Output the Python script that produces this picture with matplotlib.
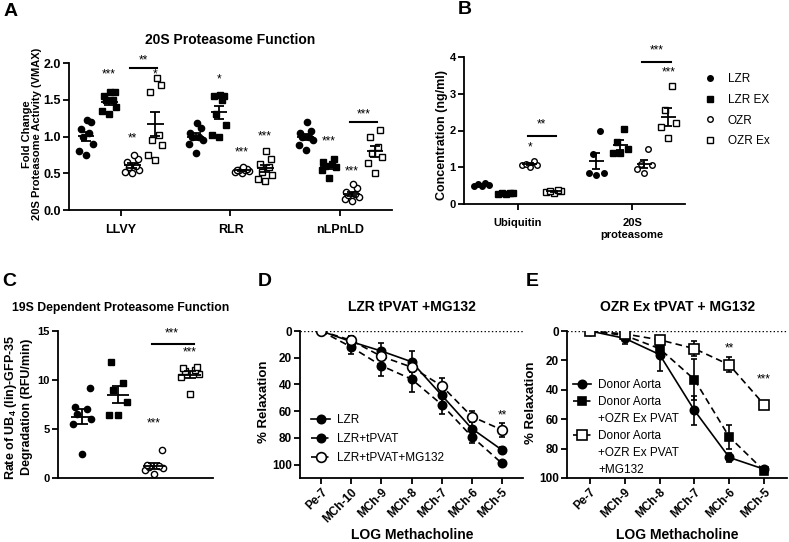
import numpy as np
import matplotlib
matplotlib.use("Agg")
import matplotlib.pyplot as plt
from matplotlib.lines import Line2D

plt.rcParams['font.family'] = ['Liberation Sans', 'DejaVu Sans']
plt.rcParams['font.weight'] = 'bold'
plt.rcParams['axes.labelweight'] = 'bold'
plt.rcParams['mathtext.fontset'] = 'custom'
plt.rcParams['mathtext.rm'] = 'Liberation Sans:bold'
plt.rcParams['mathtext.default'] = 'rm'

# ---- panel A: 20S proteasome activity (fold change) ----
a_groups = ['LLVY', 'RLR', 'nLPnLD']
a_lzr = [[0.75, 0.80, 0.90, 1.00, 1.05, 1.10, 1.20, 1.22],
         [0.77, 0.90, 0.95, 1.00, 1.00, 1.05, 1.12, 1.18],
         [0.82, 0.88, 0.95, 1.00, 1.00, 1.05, 1.08, 1.20]]
a_lzr_ex = [[1.30, 1.35, 1.40, 1.50, 1.50, 1.55, 1.60, 1.60],
            [1.00, 1.02, 1.15, 1.30, 1.50, 1.55, 1.55, 1.57],
            [0.43, 0.55, 0.58, 0.60, 0.62, 0.65, 0.70]]
a_ozr = [[0.50, 0.52, 0.55, 0.58, 0.60, 0.65, 0.70, 0.75],
         [0.50, 0.52, 0.53, 0.54, 0.55, 0.55, 0.56, 0.58],
         [0.12, 0.15, 0.18, 0.20, 0.22, 0.25, 0.30, 0.35]]
a_ozr_ex = [[0.68, 0.75, 0.88, 0.95, 1.02, 1.60, 1.70, 1.80],
            [0.40, 0.42, 0.48, 0.52, 0.58, 0.62, 0.70, 0.80],
            [0.50, 0.64, 0.72, 0.78, 0.86, 0.99, 1.09]]
# (group, series, y, text)
a_stars = [(0, 1, 1.84, '***'), (0, 2, 0.98, '**'), (0, 3, 1.84, '*'),
           (1, 1, 1.77, '*'), (1, 2, 0.78, '***'), (1, 3, 1.00, '***'),
           (2, 1, 0.93, '***'), (2, 2, 0.52, '***')]
a_bars = [(0, 2, 3, 1.93, '**'), (2, 2, 3, 1.20, '***')]

# ---- panel B: ELISA concentrations ----
b_groups = ['Ubiquitin', '20S\nproteasome']
b_lzr = [[0.48, 0.50, 0.52, 0.55, 0.58], [2.00, 1.35, 0.85, 0.80, 0.85]]
b_lzr_ex = [[0.27, 0.28, 0.29, 0.30, 0.30], [2.05, 1.70, 1.50, 1.40, 1.38]]
b_ozr = [[1.00, 1.05, 1.07, 1.10, 1.17], [1.50, 1.10, 1.05, 0.95, 0.85]]
b_ozr_ex = [[0.30, 0.32, 0.35, 0.36, 0.38], [3.20, 2.55, 2.20, 2.10, 1.80]]
b_stars = [(0, 2, 1.55, '*'), (1, 3, 3.59, '***')]
b_bars = [(0, 2, 3, 1.85, '**'), (1, 2, 3, 3.86, '***')]

# ---- panel C: 19S dependent degradation ----
c_lzr = [2.5, 5.5, 6.0, 6.5, 7.0, 7.2, 9.2]
c_lzr_ex = [11.8, 9.7, 9.0, 7.8, 6.4, 6.4]
c_ozr = [0.4, 0.8, 1.0, 1.1, 1.2, 1.3, 2.9]
c_ozr_ex = [8.6, 10.3, 10.6, 10.9, 11.0, 11.2, 11.3]
c_stars = [(2, 5.6, '***'), (3, 12.8, '***')]
c_bars = [(2, 3, 13.7, '***')]

series_names = ['LZR', 'LZR EX', 'OZR', 'OZR Ex']
series_marker = ['o', 's', 'o', 's']
series_fill = [True, True, False, False]

# ---- panel D: LZR tPVAT + MG132 ----
d_ticks = ['Pe-7', 'MCh-10', 'MCh-9', 'MCh-8', 'MCh-7', 'MCh-6', 'MCh-5']
d_labels = ['LZR', 'LZR+tPVAT', 'LZR+tPVAT+MG132']
d_lzr = [0, 8, 15, 23, 48, 73, 89]
d_lzr_err = [0, 4, 6, 8, 6, 5, 2]
d_tpvat = [0, 12, 26, 36, 55, 79, 99]
d_tpvat_err = [0, 5, 8, 10, 7, 5, 2]
d_mg = [0, 7, 19, 27, 41, 64, 74]
d_mg_err = [0, 3, 3, 4, 6, 4, 5]
d_stars = [(6, 63, '**')]

# ---- panel E: OZR Ex tPVAT + MG132 ----
e_ticks = ['Pe-7', 'MCh-9', 'MCh-8', 'MCh-7', 'MCh-6', 'MCh-5']
e_donor = [0, 5, 16, 54, 86, 94]
e_donor_err = [0, 4, 11, 10, 3, 1]
e_pvat = [0, 3, 12, 33, 72, 95]
e_pvat_err = [0, 2, 3, 14, 8, 2]
e_mg = [0, 2, 6, 12, 23, 50]
e_mg_err = [0, 1, 2, 5, 5, 1]
e_stars = [(4, 12, '**'), (5, 33, '***')]


def style(ax, fs):
    for s in ['top', 'right']:
        ax.spines[s].set_visible(False)
    for s in ['left', 'bottom']:
        ax.spines[s].set_linewidth(1.3)
    ax.tick_params(width=1.3, length=4, labelsize=fs, pad=2)


def spread(vals):
    order = np.argsort(vals)
    pat = np.array([0.0, -1.0, 1.0, -0.5, 0.5, -0.8, 0.8, 0.2, -0.2])
    offs = np.empty(len(vals))
    offs[order] = pat[np.arange(len(vals)) % len(pat)]
    return offs


def dots(ax, x, vals, marker, fill, w, mw, cap, ms):
    vals = np.asarray(vals, dtype=float)
    ax.plot(x + spread(vals) * w, vals, ls='none', marker=marker, ms=ms,
            mfc='black' if fill else 'white', mec='black', mew=1.0, zorder=3)
    m = vals.mean()
    s = vals.std(ddof=1) / np.sqrt(len(vals))
    ax.hlines(m, x - mw, x + mw, color='black', lw=1.3, zorder=4)
    ax.errorbar(x, m, yerr=s, fmt='none', ecolor='black', elinewidth=1.3,
                capsize=cap, capthick=1.3, zorder=4)


def star(ax, x, y, t, fs=8.5):
    ax.text(x, y, t, ha='center', va='center', fontsize=fs,
            fontweight='normal', clip_on=False)


def curve(ax, x, y, err, ls, marker, fill, ms):
    ax.errorbar(x, y, yerr=err, color='black', lw=1.2, ls=ls, marker=marker,
                ms=ms, mfc='black' if fill else 'white', mec='black', mew=1.2,
                capsize=2.5, capthick=1.2, zorder=4 if not fill else 3)
    return Line2D([], [], color='black', lw=1.2, ls=ls, marker=marker, ms=ms,
                  mfc='black' if fill else 'white', mec='black', mew=1.2)


fig = plt.figure(figsize=(7.89, 5.42), dpi=100)
W, H = 789.0, 542.0


def px_axes(l, t, r, b):
    return fig.add_axes([l / W, 1 - b / H, (r - l) / W, (b - t) / H])


# ================= A =================
axA = px_axes(69, 63, 392, 210)
step = 0.21
offA = (np.arange(4) - 1.5) * step
for gi, g in enumerate(a_groups):
    for si, data in enumerate([a_lzr, a_lzr_ex, a_ozr, a_ozr_ex]):
        dots(axA, gi + offA[si], data[gi], series_marker[si], series_fill[si],
             0.062, 0.077, 3.6, 4.5)
for gi, si, y, t in a_stars:
    star(axA, gi + offA[si], y, t)
for gi, s1, s2, y, t in a_bars:
    axA.plot([gi + offA[s1] - 0.02, gi + offA[s2] + 0.02], [y, y], color='black',
             lw=1.5, clip_on=False)
    star(axA, (2 * gi + offA[s1] + offA[s2]) / 2, y + 0.1, t)
axA.set_xlim(-0.47, 2.47)
axA.set_ylim(0, 2.0)
axA.set_xticks(range(3))
axA.set_xticklabels(a_groups)
axA.set_yticks([0, 0.5, 1.0, 1.5, 2.0])
axA.set_yticklabels(['0.0', '0.5', '1.0', '1.5', '2.0'])
style(axA, 9)
axA.tick_params(axis='x', pad=6)
fig.text(230 / W, 1 - 40 / H, '20S Proteasome Function', ha='center', va='center',
         fontsize=10)
fig.text(32 / W, 1 - 134 / H, 'Fold Change\n20S Proteasome Activity (VMAX)',
         rotation=90, ha='center', va='center', fontsize=8, linespacing=1.1)

# ================= B =================
axB = px_axes(464, 57, 685, 204)
for gi, g in enumerate(b_groups):
    for si, data in enumerate([b_lzr, b_lzr_ex, b_ozr, b_ozr_ex]):
        dots(axB, gi + offA[si], data[gi], series_marker[si], series_fill[si],
             0.065, 0.066, 3.0, 4.0)
for gi, si, y, t in b_stars:
    star(axB, gi + offA[si], y, t)
for gi, s1, s2, y, t in b_bars:
    axB.plot([gi + offA[s1] - 0.02, gi + offA[s2] + 0.02], [y, y], color='black',
             lw=1.5, clip_on=False)
    star(axB, (2 * gi + offA[s1] + offA[s2]) / 2, y + 0.32, t)
axB.set_xlim(-0.47, 1.46)
axB.set_ylim(0, 4)
axB.set_xticks(range(2))
axB.set_xticklabels(b_groups, linespacing=1.25)
axB.set_yticks([0, 1, 2, 3, 4])
style(axB, 8)
axB.tick_params(axis='x', pad=6)
fig.text(442 / W, 1 - 135 / H, 'Concentration (ng/ml)', rotation=90, ha='center',
         va='center', fontsize=9)
handles = [Line2D([], [], ls='none', marker=series_marker[i], ms=4,
                  mfc='black' if series_fill[i] else 'white', mec='black', mew=1.0)
           for i in range(4)]
fig.legend(handles, series_names, loc='upper left',
           bbox_to_anchor=(697 / W, 1 - 67 / H), frameon=False, borderpad=0,
           labelspacing=0.75, handletextpad=0.9, handlelength=1.2,
           prop={'weight': 'normal', 'size': 8.5})

# ================= C =================
axC = px_axes(58, 331, 213, 478)
for si, data in enumerate([c_lzr, c_lzr_ex, c_ozr, c_ozr_ex]):
    dots(axC, si, data, series_marker[si], series_fill[si], 0.26, 0.3, 4.3, 4.5)
for si, y, t in c_stars:
    star(axC, si, y, t)
for s1, s2, y, t in c_bars:
    axC.plot([s1 - 0.05, s2 + 0.1], [y, y], color='black', lw=1.5, clip_on=False)
    star(axC, (s1 + s2) / 2, y + 1.1, t)
axC.set_xlim(-0.67, 3.64)
axC.set_ylim(0, 15)
axC.set_xticks([])
axC.set_yticks([0, 5, 10, 15])
style(axC, 8)
fig.text(121 / W, 1 - 308 / H, '19S Dependent Proteasome Function', ha='center',
         va='center', fontsize=8.8)
fig.text(18 / W, 1 - 407 / H, 'Rate of UB$_4$ (lin)-GFP-35\nDegradation (RFU/min)',
         rotation=90, ha='center', va='center', fontsize=9, linespacing=1.15)

# ================= D =================
dash = (0, (4, 2.5))
axD = px_axes(300, 331, 523, 478)
xd = np.arange(len(d_ticks))
axD.axhline(0, color='black', ls=':', lw=1.0, zorder=1)
hD = [curve(axD, xd, d_lzr, d_lzr_err, '-', 'o', True, 6),
      curve(axD, xd, d_tpvat, d_tpvat_err, dash, 'o', True, 6),
      curve(axD, xd, d_mg, d_mg_err, dash, 'o', False, 7)]
for xi, y, t in d_stars:
    star(axD, xi, y, t)
axD.set_xlim(-0.7, 6.7)
axD.set_ylim(110, 0)
axD.set_yticks([0, 20, 40, 60, 80, 100])
axD.set_xticks(xd)
axD.set_xticklabels(d_ticks, rotation=45, ha='right', rotation_mode='anchor')
style(axD, 8.5)
axD.legend(hD, d_labels, loc='center left', bbox_to_anchor=(0.05, 0.265),
           frameon=False, borderpad=0, borderaxespad=0, labelspacing=0.62,
           handlelength=1.6, handletextpad=0.6,
           prop={'weight': 'normal', 'size': 8.5})
fig.text(412 / W, 1 - 307 / H, 'LZR tPVAT +MG132', ha='center', va='center',
         fontsize=10)
fig.text(264 / W, 1 - 402 / H, '% Relaxation', rotation=90, ha='center',
         va='center', fontsize=9.5)
fig.text(412 / W, 1 - 535 / H, 'LOG Methacholine', ha='center', va='center',
         fontsize=10)

# ================= E =================
axE = px_axes(567, 331, 787, 478)
xe = np.arange(len(e_ticks))
axE.axhline(0, color='black', ls=':', lw=1.0, zorder=1)
hE1 = curve(axE, xe, e_donor, e_donor_err, '-', 'o', True, 6)
hE2 = curve(axE, xe, e_pvat, e_pvat_err, dash, 's', True, 6)
hE3 = curve(axE, xe, e_mg, e_mg_err, dash, 's', False, 7)
for xi, y, t in e_stars:
    star(axE, xi, y, t)
axE.set_xlim(-0.66, 5.66)
axE.set_ylim(100, 0)
axE.set_yticks([0, 20, 40, 60, 80, 100])
axE.set_xticks(xe)
axE.set_xticklabels(e_ticks, rotation=45, ha='right', rotation_mode='anchor')
style(axE, 8.5)
blank = Line2D([], [], ls='none')
axE.legend([hE1, hE2, blank, hE3, blank, blank],
           ['Donor Aorta', 'Donor Aorta', '+OZR Ex PVAT', 'Donor Aorta',
            '+OZR Ex PVAT', '+MG132'],
           loc='upper left', bbox_to_anchor=(0.025, 0.675), frameon=False,
           borderpad=0, borderaxespad=0, labelspacing=0.42, handlelength=1.6,
           handletextpad=0.6, prop={'weight': 'normal', 'size': 8.5})
fig.text(677 / W, 1 - 307 / H, 'OZR Ex tPVAT + MG132', ha='center', va='center',
         fontsize=10)
fig.text(531 / W, 1 - 403 / H, '% Relaxation', rotation=90, ha='center',
         va='center', fontsize=9.5)
fig.text(677 / W, 1 - 535 / H, 'LOG Methacholine', ha='center', va='center',
         fontsize=10)

# panel letters
for lab, x, y in [('A', 11, 11), ('B', 465, 9), ('C', 9, 281), ('D', 265, 281),
                  ('E', 532, 281)]:
    fig.text(x / W, 1 - y / H, lab, ha='center', va='center', fontsize=14)

fig.savefig('out.png', dpi=100)
